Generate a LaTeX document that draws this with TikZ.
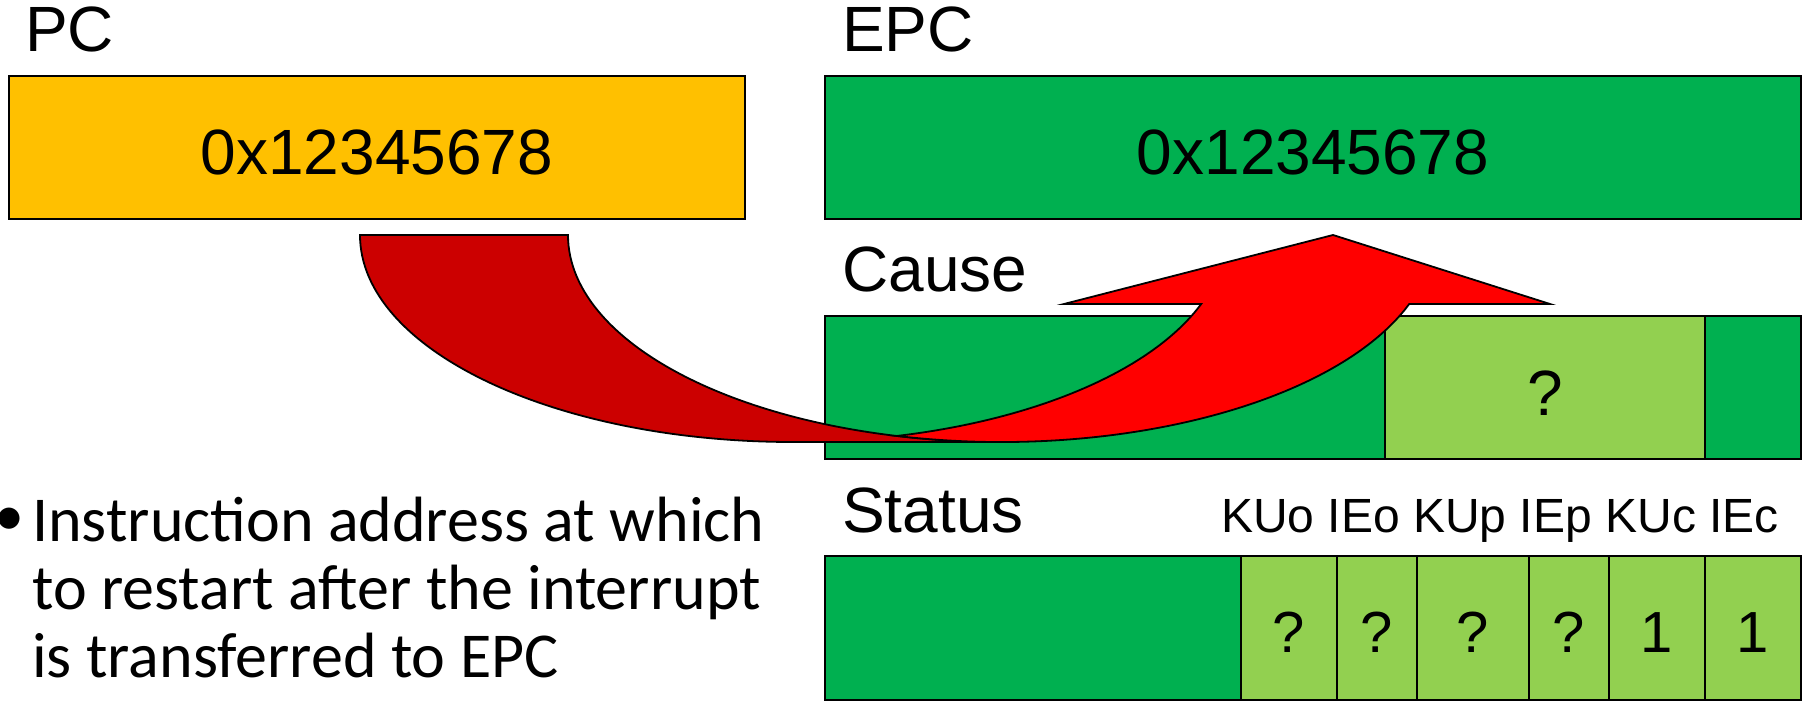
\documentclass[tikz,border=0pt]{standalone}
\usepackage{fontspec}
\setmainfont{Liberation Sans}
\newfontfamily\carlito{Carlito}
\definecolor{pcyellow}{HTML}{FFC000}
\definecolor{reggreen}{HTML}{00B050}
\definecolor{fieldgreen}{HTML}{92D050}
\definecolor{arrowred}{HTML}{FF0000}
\definecolor{arrowdark}{HTML}{CC0000}
\tikzset{
  reg/.style={draw=black, line width=2pt, rectangle, inner sep=0pt, anchor=north west,
    minimum height=143pt, font=\fontsize{64}{64}\selectfont, text height=54pt, text depth=0pt},
  cell/.style={reg, fill=fieldgreen},
  scell/.style={reg, fill=fieldgreen, minimum height=144pt, font=\fontsize{58}{58}\selectfont, text height=48pt},
  lbl/.style={inner sep=0pt, anchor=base west, font=\fontsize{64}{64}\selectfont},
  fld/.style={inner sep=0pt, anchor=base west, font=\fontsize{48}{48}\selectfont},
  arrowpart/.style={draw=black, line width=1.8pt, line join=miter},
  note/.style={inner sep=0pt, anchor=base west, font=\carlito\fontsize{64}{68}\selectfont},
}
\begin{document}
\begin{tikzpicture}[x=1pt, y=-1pt]
\useasboundingbox (0,0) rectangle (1807,706);
% registers
\node[reg, fill=pcyellow, minimum width=736pt] (pc) at (8,75) {0x12345678};
\node[reg, fill=reggreen, minimum width=976pt] (epc) at (824,75) {0x12345678};
\node[reg, fill=reggreen, minimum width=976pt] (cause) at (824,315) {};
\node[cell, minimum width=320pt, text height=55pt] (causefld) at (1384,315) {?};
\node[reg, fill=reggreen, minimum width=976pt, minimum height=144pt] (status) at (824,555) {};
\node[scell, minimum width=96pt] (kuo) at (1240,555) {?};
\node[scell, minimum width=80pt] (ieo) at (1336,555) {?};
\node[scell, minimum width=112pt] (kup) at (1416,555) {?};
\node[scell, minimum width=80pt] (iep) at (1528,555) {?};
\node[scell, minimum width=96pt] (kuc) at (1608,555) {1};
\node[scell, minimum width=96pt] (iec) at (1704,555) {1};
% labels
\node[lbl] (pclbl) at (25,52) {PC};
\node[lbl] (epclbl) at (842,52) {EPC};
\node[lbl] (causelbl) at (842,291) {Cause};
\node[lbl] (statuslbl) at (842,532) {Status};
\node[fld] (fields) at (1221,532) {KUo IEo KUp IEp KUc IEc};
% curved arrow: back (tail) part
\draw[arrowpart, fill=arrowdark] (360,235) -- (568,235)
  arc[start angle=180, end angle=90, x radius=433, y radius=207] -- (793,442)
  arc[start angle=90, end angle=180, x radius=433, y radius=207] -- cycle;
% curved arrow: front part with head
\draw[arrowpart, fill=arrowred] (1333,235) -- (1550,304) -- (1409.2,304)
  arc[start angle=19.47, end angle=103.9, x radius=433, y radius=207]
  arc[start angle=76.1, end angle=19.47, x radius=433, y radius=207]
  -- (1064,304) -- cycle;
% bullet text
\node[note, font=\carlito\fontsize{60}{60}\selectfont] (bullet) at (-6,535) {\textbullet};
\node[note, align=left] (notetext) at (32,677)
  {Instruction address at which\\to restart after the interrupt\\is transferred to EPC};
\end{tikzpicture}
\end{document}
